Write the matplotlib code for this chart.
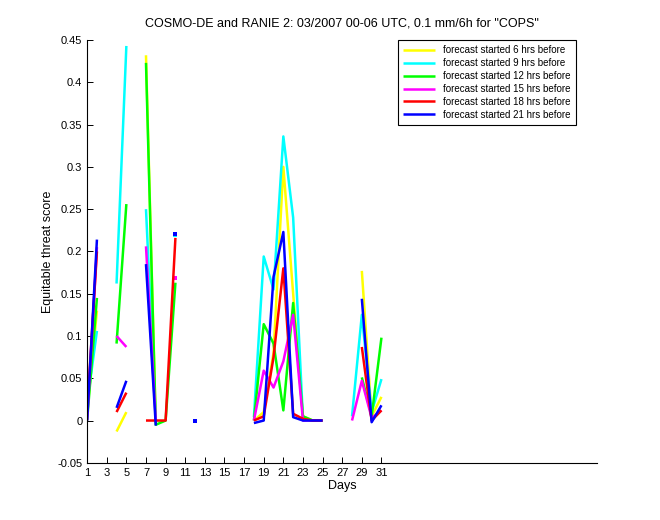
import numpy as np
import matplotlib
matplotlib.use('Agg')
import matplotlib.pyplot as plt
from matplotlib.ticker import FormatStrFormatter

plt.rcParams['font.family'] = ['Liberation Sans', 'DejaVu Sans']

nan = np.nan
days = np.arange(1, 32)

# ETS per day, NaN = no data
ets_06 = [0.01, 0.13, nan, -0.013, 0.01, nan, 0.432, -0.003, nan, nan, nan, 0.0,
          nan, nan, nan, nan, nan, 0.0, 0.01, 0.08, 0.30, 0.15, 0.005, 0.0, 0.0,
          nan, nan, nan, 0.177, 0.005, 0.028]
ets_09 = [0.02, 0.106, nan, 0.162, 0.443, nan, 0.25, 0.0, nan, 0.219, nan, 0.0,
          nan, nan, nan, nan, nan, 0.004, 0.194, 0.155, 0.336, 0.24, 0.002, 0.0, 0.0,
          nan, nan, 0.005, 0.125, 0.01, 0.049]
ets_12 = [0.0, 0.145, nan, 0.091, 0.256, nan, 0.423, -0.005, 0.0, 0.163, nan, 0.0,
          nan, nan, nan, nan, nan, 0.0, 0.114, 0.091, 0.012, 0.139, 0.005, 0.0, 0.0,
          nan, nan, nan, 0.051, 0.005, 0.098]
ets_15 = [0.0, 0.205, nan, 0.10, 0.087, nan, 0.206, 0.0, nan, 0.169, nan, 0.0,
          nan, nan, nan, nan, nan, 0.0, 0.059, 0.039, 0.07, 0.125, 0.0, 0.0, 0.0,
          nan, nan, 0.0, 0.047, 0.003, 0.012]
ets_18 = [0.01, 0.20, nan, 0.01, 0.033, nan, 0.0, 0.0, 0.0, 0.216, nan, 0.0,
          nan, nan, nan, nan, nan, 0.0, 0.005, 0.075, 0.18, 0.008, 0.002, 0.0, 0.0,
          nan, nan, nan, 0.087, 0.0, 0.012]
ets_21 = [0.0, 0.214, nan, 0.015, 0.047, nan, 0.185, -0.006, nan, 0.221, nan, 0.0,
          nan, nan, nan, nan, nan, -0.003, 0.0, 0.17, 0.223, 0.004, 0.0, 0.0, 0.0,
          nan, nan, nan, 0.144, -0.002, 0.018]

series = [ets_06, ets_09, ets_12, ets_15, ets_18, ets_21]
labels = ['forecast started 6 hrs before', 'forecast started 9 hrs before',
          'forecast started 12 hrs before', 'forecast started 15 hrs before',
          'forecast started 18 hrs before', 'forecast started 21 hrs before']
colors = ['#ffff00', '#00ffff', '#00ff00', '#ff00ff', '#ff0000', '#0000ff']

fig = plt.figure(figsize=(6.6, 5.2), dpi=100)
ax = fig.add_axes([0.132, 0.11, 0.773, 0.813])

for vals, lab, col in zip(series, labels, colors):
    y = np.array(vals, dtype=float)
    ax.plot(days, y, '-', color=col, lw=1.8, label=lab, solid_capstyle='butt')
    # points with no neighbours would not show as a line
    ok = ~np.isnan(y)
    left = np.r_[False, ok[:-1]]
    right = np.r_[ok[1:], False]
    iso = ok & ~left & ~right
    ax.plot(days[iso], y[iso], 's', color=col, ms=2.3, mew=0)

ax.set_xlim(1, 53)
ax.set_ylim(-0.05, 0.45)
ax.set_xticks(np.arange(1, 32, 2))
ax.set_yticks(np.arange(-0.05, 0.451, 0.05))
ax.yaxis.set_major_formatter(FormatStrFormatter('%g'))
ax.tick_params(direction='in', labelsize=8, length=4, width=0.7)
ax.spines['top'].set_visible(False)
ax.spines['right'].set_visible(False)
for s in ['left', 'bottom']:
    ax.spines[s].set_linewidth(0.8)

ax.set_title('COSMO-DE and RANIE 2: 03/2007 00-06 UTC, 0.1 mm/6h for "COPS"',
             fontsize=9, pad=10)
ax.set_xlabel('Days', fontsize=9, labelpad=2)
ax.set_ylabel('Equitable threat score', fontsize=9, labelpad=2)

leg = ax.legend(loc='upper right', bbox_to_anchor=(0.967, 1.012), fontsize=7,
                fancybox=False, edgecolor='black', framealpha=1,
                handlelength=3.3, borderpad=0.55, labelspacing=0.3)
leg.get_frame().set_linewidth(0.8)

fig.savefig('out.png', dpi=100)
